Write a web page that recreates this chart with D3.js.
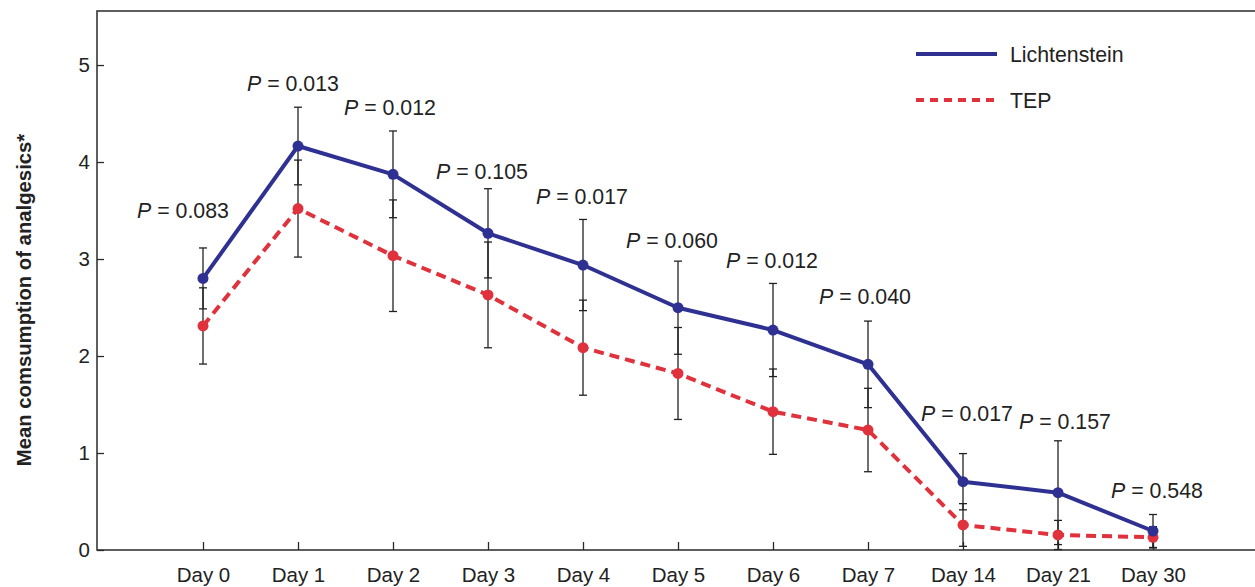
<!DOCTYPE html>
<html>
<head>
<meta charset="utf-8">
<script src="https://cdn.jsdelivr.net/npm/d3@7"></script>
<style>
  html, body { margin: 0; padding: 0; background: #fff; }
  svg { display: block; font-family: "Liberation Sans", Arial, Helvetica, sans-serif; }
</style>
</head>
<body>
<svg id="chart" width="1255" height="587"></svg>
<script>
// ---- data ----
const days = ["Day 0","Day 1","Day 2","Day 3","Day 4","Day 5","Day 6","Day 7","Day 14","Day 21","Day 30"];
const lichMean = [2.80, 4.165, 3.873, 3.265, 2.938, 2.498, 2.268, 1.914, 0.704, 0.591, 0.196];
const lichErr  = [0.314, 0.40, 0.447, 0.46, 0.47, 0.48, 0.48, 0.446, 0.29, 0.535, 0.17];
const tepMean  = [2.31, 3.52, 3.034, 2.63, 2.086, 1.82, 1.426, 1.237, 0.258, 0.155, 0.131];
const tepErr   = [0.393, 0.50, 0.575, 0.545, 0.49, 0.474, 0.44, 0.43, 0.22, 0.15, 0.11];
const pValues  = ["0.083","0.013","0.012","0.105","0.017","0.060","0.012","0.040","0.017","0.157","0.548"];
const pLabelY  = [3.42, 4.73, 4.485, 3.825, 3.567, 3.113, 2.907, 2.536, 1.33, 1.247, 0.536];
const pLabelDx = [-20, -5, -3, -6, -1, -6, -1, -3, 4, 7, 4];
const yTicks   = [0, 1, 2, 3, 4, 5];
const seriesNames = ["Lichtenstein", "TEP"];

// ---- layout ----
const svg = d3.select("#chart");
const mLeft = 97, mRight = 1255, mTop = 11, mBottom = 550;
const blue = "#2e3192", red = "#e0323c", axisCol = "#2a2a2a";
const fontFam = "Liberation Sans, Arial, sans-serif";

const x = d3.scalePoint().domain(days).range([98.5, 1257.5]).padding(1.1);
const y = d3.scaleLinear().domain([0, 5.557]).range([mBottom, mTop]);

// frame (top + left + bottom)
svg.append("path")
  .attr("d", `M${mRight},${mTop}H${mLeft}V${mBottom}H${mRight}`)
  .attr("fill", "none").attr("stroke", axisCol).attr("stroke-width", 1.5);

// y axis
const yAxis = svg.append("g").attr("transform", `translate(${mLeft},0)`)
  .call(d3.axisLeft(y).tickValues(yTicks).tickSizeInner(-7).tickSizeOuter(0).tickPadding(7).tickFormat(d3.format("d")));
yAxis.select(".domain").remove();
yAxis.selectAll(".tick line").attr("stroke", axisCol).attr("stroke-width", 1.3);
yAxis.selectAll(".tick text").attr("font-size", 20.5).attr("fill", "#222").attr("font-family", fontFam);

// x axis
const xAxis = svg.append("g").attr("transform", `translate(0,${mBottom})`)
  .call(d3.axisBottom(x).tickSizeInner(-8).tickSizeOuter(0).tickPadding(17));
xAxis.select(".domain").remove();
xAxis.selectAll(".tick line").attr("stroke", axisCol).attr("stroke-width", 1.3);
xAxis.selectAll(".tick text").attr("font-size", 20.5).attr("fill", "#222").attr("font-family", fontFam);

// y title
svg.append("text")
  .attr("transform", `translate(31,300) rotate(-90)`)
  .attr("text-anchor", "middle")
  .attr("font-size", 20.3).attr("font-weight", "bold").attr("fill", "#222")
  .text("Mean comsumption of analgesics*");

// error bars
function errorBars(means, errs) {
  const g = svg.append("g").attr("stroke", "#222").attr("stroke-width", 1.3).attr("fill", "none");
  means.forEach((m, i) => {
    const cx = x(days[i]);
    const lo = Math.max(0, m - errs[i]), hi = m + errs[i];
    g.append("line").attr("x1", cx).attr("x2", cx).attr("y1", y(lo)).attr("y2", y(hi));
    [lo, hi].forEach(v => {
      g.append("line").attr("x1", cx - 4).attr("x2", cx + 4).attr("y1", y(v)).attr("y2", y(v));
    });
  });
}
errorBars(lichMean, lichErr);
errorBars(tepMean, tepErr);

// lines
const line = d3.line().x((d, i) => x(days[i])).y(d => y(d));
svg.append("path").datum(tepMean).attr("d", line)
  .attr("fill", "none").attr("stroke", red).attr("stroke-width", 4).attr("stroke-dasharray", "10,6");
svg.append("path").datum(lichMean).attr("d", line)
  .attr("fill", "none").attr("stroke", blue).attr("stroke-width", 4).attr("stroke-linejoin", "round");

// points
svg.append("g").selectAll("circle").data(tepMean).join("circle")
  .attr("cx", (d, i) => x(days[i])).attr("cy", d => y(d)).attr("r", 5.5).attr("fill", red);
svg.append("g").selectAll("circle").data(lichMean).join("circle")
  .attr("cx", (d, i) => x(days[i])).attr("cy", d => y(d)).attr("r", 5.5).attr("fill", blue);

// P labels
const pl = svg.append("g").attr("font-size", 21.3).attr("fill", "#222").attr("text-anchor", "middle");
pValues.forEach((p, i) => {
  const t = pl.append("text").attr("x", x(days[i]) + pLabelDx[i]).attr("y", y(pLabelY[i]));
  t.append("tspan").attr("font-style", "italic").text("P");
  t.append("tspan").text(" = " + p);
});

// legend
const lg = svg.append("g");
lg.append("line").attr("x1", 916).attr("x2", 997).attr("y1", 54).attr("y2", 54)
  .attr("stroke", blue).attr("stroke-width", 4);
lg.append("line").attr("x1", 916).attr("x2", 997).attr("y1", 100).attr("y2", 100)
  .attr("stroke", red).attr("stroke-width", 4).attr("stroke-dasharray", "8,6");
lg.selectAll("text").data(seriesNames).join("text")
  .attr("x", 1010).attr("y", (d, i) => 61.5 + i * 46)
  .attr("font-size", 21.3).attr("fill", "#222").text(d => d);
</script>
</body>
</html>
